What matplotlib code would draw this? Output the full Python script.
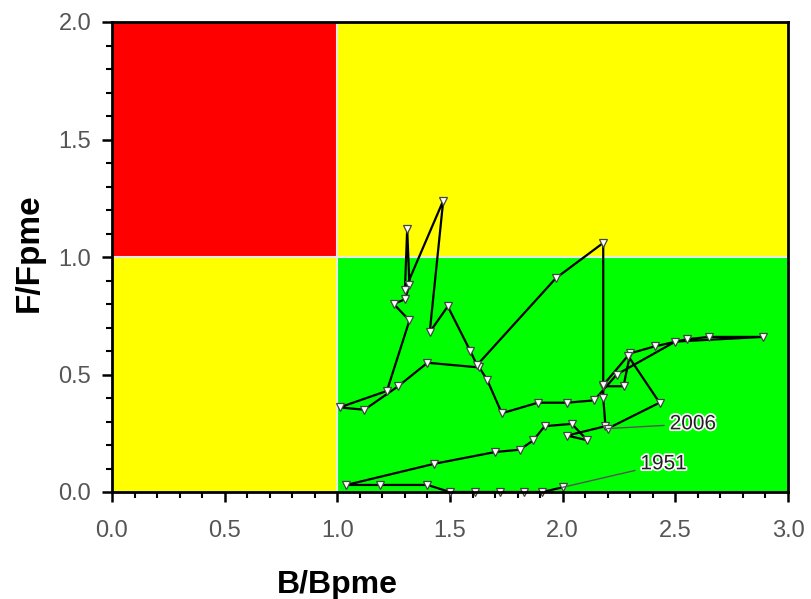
import matplotlib
matplotlib.use("Agg")
import matplotlib.pyplot as plt
from matplotlib.patches import Rectangle
from matplotlib.ticker import MultipleLocator
import matplotlib.patheffects as pe

plt.rcParams['font.family'] = ['Liberation Sans', 'DejaVu Sans']

# ---- data ----
years = list(range(1951, 2007))
b_ratio = [2.00, 1.91, 1.83, 1.72, 1.61, 1.50, 1.40, 1.19, 1.04, 1.43,
           1.70, 1.81, 1.87, 1.92, 2.04, 2.11, 2.02, 2.19, 2.18, 2.18,
           2.27, 2.30, 2.41, 2.55, 2.65, 2.89, 2.50, 2.24, 2.14, 2.02,
           1.89, 1.73, 1.665, 1.63, 1.40, 1.27, 1.12, 1.01, 1.22, 1.32,
           1.25, 1.30, 1.32, 1.31, 1.30, 1.47, 1.41, 1.49, 1.59, 1.62,
           1.97, 2.18, 2.18, 2.29, 2.43, 2.20]
f_ratio = [0.02, 0.00, 0.00, 0.00, 0.00, 0.00, 0.03, 0.03, 0.03, 0.12,
           0.17, 0.18, 0.22, 0.28, 0.29, 0.22, 0.24, 0.28, 0.40, 0.45,
           0.45, 0.59, 0.62, 0.65, 0.66, 0.66, 0.64, 0.50, 0.39, 0.38,
           0.38, 0.335, 0.477, 0.53, 0.55, 0.45, 0.35, 0.36, 0.43, 0.73,
           0.80, 0.82, 0.88, 1.12, 0.86, 1.24, 0.68, 0.79, 0.60, 0.54,
           0.91, 1.06, 0.455, 0.58, 0.38, 0.27]
label_years = [1951, 2006]
label_text_pos = [(2.345, 0.12), (2.475, 0.29)]

x_max, y_max = 3.0, 2.0
ref = 1.0

fig = plt.figure(figsize=(8.12, 5.99), dpi=100)
ax = fig.add_axes([112/812, 107/599, 676/812, 470/599])

# quadrants
ax.add_patch(Rectangle((0, ref), ref, y_max - ref, facecolor='#ff0000', edgecolor='none', zorder=0))
ax.add_patch(Rectangle((ref, ref), x_max - ref, y_max - ref, facecolor='#ffff00', edgecolor='none', zorder=0))
ax.add_patch(Rectangle((0, 0), ref, ref, facecolor='#ffff00', edgecolor='none', zorder=0))
ax.add_patch(Rectangle((ref, 0), x_max - ref, ref, facecolor='#00ff00', edgecolor='none', zorder=0))
ax.axvline(ref, color='#e8e8e8', lw=1.5, zorder=1)
ax.axhline(ref, color='#e8e8e8', lw=1.5, zorder=1)

ax.plot(b_ratio, f_ratio, color='black', lw=1.6, marker='v', markersize=6,
        markerfacecolor='white', markeredgecolor='#444444', markeredgewidth=0.9,
        zorder=3, clip_on=False)

for yr, (tx, ty) in zip(label_years, label_text_pos):
    i = years.index(yr)
    t = ax.annotate(str(yr), xy=(b_ratio[i], f_ratio[i]), xytext=(tx, ty),
                    ha='left', va='center', fontsize=15, color='#222222',
                    arrowprops=dict(arrowstyle='-', color='#555555', lw=1.0,
                                    shrinkA=2, shrinkB=0), zorder=4)
    t.set_path_effects([pe.withStroke(linewidth=2.5, foreground='white')])

ax.set_xlim(0, x_max)
ax.set_ylim(0, y_max)
ax.xaxis.set_major_locator(MultipleLocator(0.5))
ax.yaxis.set_major_locator(MultipleLocator(0.5))
ax.xaxis.set_minor_locator(MultipleLocator(0.1))
ax.yaxis.set_minor_locator(MultipleLocator(0.1))
ax.xaxis.set_major_formatter(plt.FormatStrFormatter('%.1f'))
ax.yaxis.set_major_formatter(plt.FormatStrFormatter('%.1f'))
ax.tick_params(which='major', direction='out', length=7, width=1.8,
               labelsize=17, labelcolor='#555555')
ax.tick_params(axis='x', which='major', pad=13)
ax.tick_params(axis='y', which='major', pad=8)
ax.tick_params(which='minor', direction='out', length=4, width=1.5)
for s in ax.spines.values():
    s.set_linewidth(2)
    s.set_color('black')
    s.set_zorder(5)

ax.text(1/3, -0.165, 'B/Bpme', transform=ax.transAxes, ha='center', va='top',
        fontsize=23, fontweight='bold')
ax.text(-0.122, 0.51, 'F/Fpme', transform=ax.transAxes, ha='center', va='center',
        rotation=90, fontsize=24, fontweight='bold')

fig.savefig('out.png', dpi=100)
